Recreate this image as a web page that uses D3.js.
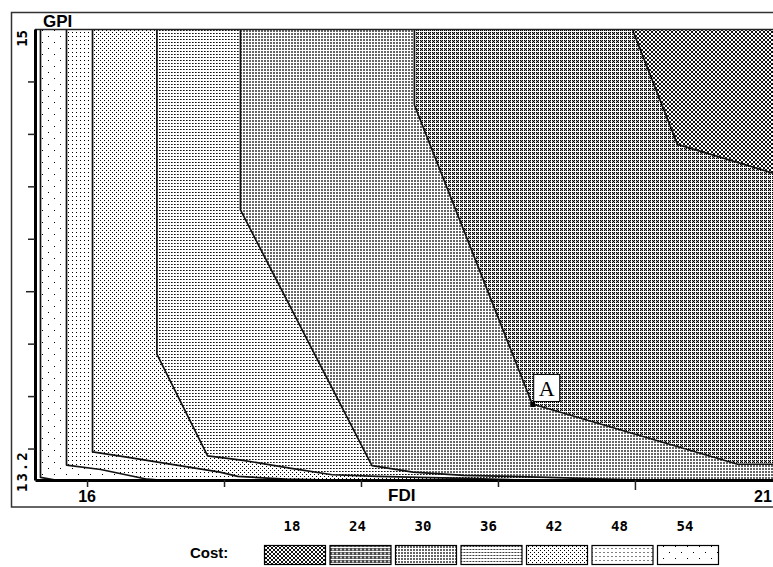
<!DOCTYPE html>
<html>
<head>
<meta charset="utf-8">
<script src="https://cdn.jsdelivr.net/npm/d3@7"></script>
<style>
body { margin: 0; background: #fff; }
svg { display: block; }
</style>
</head>
<body>
<svg id="chart" width="773" height="567"></svg>
<script>
// cost levels shown in the legend
var costLevels = [18, 24, 30, 36, 42, 48, 54];
// axis ranges and ticks
var fdiDomain = [15.62, 21.3];
var gpiDomain = [13.28, 15];
var fdiTicks = [16, 17, 18, 19, 20];
var gpiTicks = [13.4, 13.6, 13.8, 14.0, 14.2, 14.4, 14.6, 14.8];
var fdiLabels = ['16', '21'];
var fdiLabelValues = [16, 21];
var gpiLabels = ['13.2', '15'];
// contour lines (FDI, GPI)
var contour18 = [[19.98, 15], [20.31, 14.56], [21.01, 14.45], [21.3, 14.41]];
var contour24 = [[18.39, 15], [18.39, 14.71], [19.25, 13.57], [20.75, 13.34], [21.3, 13.34]];
var contour30 = [[17.12, 15], [17.12, 14.31], [18.08, 13.335], [18.38, 13.31], [18.75, 13.298], [19.37, 13.29], [20.0, 13.28]];
var contour36 = [[16.51, 15], [16.51, 13.76], [16.88, 13.372], [17.14, 13.355], [17.48, 13.325], [17.79, 13.30], [18.12, 13.294], [18.75, 13.286], [19.16, 13.28]];
var contour42 = [[16.04, 15], [16.04, 13.387], [16.29, 13.367], [16.97, 13.31], [17.10, 13.294], [17.45, 13.283], [17.77, 13.28]];
var contour48 = [[15.85, 15], [15.85, 13.337], [16.10, 13.32], [16.44, 13.283], [16.53, 13.28]];
var contour54 = [[15.66, 15], [15.66, 13.29], [15.77, 13.28]];
// the marked optimum
var pointA = [19.25, 13.57];
var pointALabel = 'A';

var contours = [contour18, contour24, contour30, contour36, contour42, contour48, contour54];

// fill patterns, one per cost level (pixel cells inside a tile: [x, y, colour])
var patternStyles = {
    18: {w: 4, h: 4, cells: [[0, 0, '#111'], [1, 1, '#111'], [2, 2, '#111'], [3, 3, '#111'], [3, 0, '#111'], [2, 1, '#111'], [1, 2, '#111'], [0, 3, '#111']]},
    24: {w: 4, h: 4, cells: [[0, 0, '#000'], [2, 0, '#000'], [1, 1, '#000'], [0, 2, '#000'], [2, 2, '#000'], [1, 0, '#999'], [0, 1, '#999'], [2, 1, '#999'], [1, 2, '#999']]},
    30: {w: 3, h: 3, cells: [[0, 0, '#666'], [1, 0, '#666'], [0, 1, '#666'], [1, 1, '#666']]},
    36: {w: 3, h: 3, cells: [[0, 0, '#111'], [1, 0, '#666']]},
    42: {w: 4, h: 4, cells: [[0, 0, '#000'], [2, 2, '#000']]},
    48: {w: 4, h: 4, cells: [[0, 0, '#000']]},
    54: {w: 12, h: 12, cells: [[0, 0, '#000'], [6, 6, '#000']]}
};

var svg = d3.select('#chart');
var defs = svg.append('defs');

costLevels.forEach(function (c) {
    var st = patternStyles[c];
    var p = defs.append('pattern')
        .attr('id', 'pat' + c)
        .attr('width', st.w)
        .attr('height', st.h)
        .attr('patternUnits', 'userSpaceOnUse');
    p.append('rect').attr('width', st.w).attr('height', st.h).attr('fill', '#fff');
    p.selectAll('rect.cell').data(st.cells).enter().append('rect')
        .attr('class', 'cell')
        .attr('x', function (d) { return d[0]; })
        .attr('y', function (d) { return d[1]; })
        .attr('width', 1)
        .attr('height', 1)
        .attr('fill', function (d) { return d[2]; });
});

var x = d3.scaleLinear().domain(fdiDomain).range([35, 813]);
var y = d3.scaleLinear().domain(gpiDomain).range([480, 29]);

defs.append('clipPath').attr('id', 'plotClip')
    .append('rect')
    .attr('x', x(fdiDomain[0]))
    .attr('y', y(gpiDomain[1]))
    .attr('width', x(fdiDomain[1]) - x(fdiDomain[0]))
    .attr('height', y(gpiDomain[0]) - y(gpiDomain[1]));

// outer frame
svg.append('rect')
    .attr('x', 11.5).attr('y', 12.5)
    .attr('width', 820).attr('height', 494.5)
    .attr('fill', 'none').attr('stroke', '#333').attr('stroke-width', 1.5);

var plot = svg.append('g').attr('clip-path', 'url(#plotClip)');

// regions: draw the highest cost first, lower costs stack on top
var line = d3.line().x(function (d) { return x(d[0]); }).y(function (d) { return y(d[1]); });
for (var i = costLevels.length - 1; i >= 0; i--) {
    var pts = contours[i];
    var last = pts[pts.length - 1];
    var poly = pts.concat([[fdiDomain[1] + 0.2, last[1]], [fdiDomain[1] + 0.2, gpiDomain[1]]]);
    plot.append('path')
        .attr('d', line(poly) + 'Z')
        .attr('fill', 'url(#pat' + costLevels[i] + ')')
        .attr('stroke', 'none');
}
// contour lines
contours.forEach(function (pts) {
    plot.append('path')
        .attr('d', line(pts))
        .attr('fill', 'none')
        .attr('stroke', '#111')
        .attr('stroke-width', 1.7)
        .attr('stroke-linejoin', 'round');
});

// top border of the plot
svg.append('line')
    .attr('x1', x(fdiDomain[0])).attr('x2', 820)
    .attr('y1', y(gpiDomain[1]) + 0.5).attr('y2', y(gpiDomain[1]) + 0.5)
    .attr('stroke', '#222').attr('stroke-width', 1.5);

// axes
var yAxis = svg.append('g')
    .attr('transform', 'translate(' + x(fdiDomain[0]) + ',0)')
    .call(d3.axisLeft(y).tickValues(gpiTicks).tickSize(7).tickSizeOuter(0).tickFormat(''));
var xAxis = svg.append('g')
    .attr('transform', 'translate(0,' + y(gpiDomain[0]) + ')')
    .call(d3.axisBottom(x).tickValues(fdiTicks).tickSize(7).tickSizeOuter(0).tickFormat(''));
[yAxis, xAxis].forEach(function (ax) {
    ax.select('.domain').attr('stroke', '#000').attr('stroke-width', 3);
    ax.selectAll('.tick line').attr('stroke', '#222').attr('stroke-width', 1.5);
});
yAxis.selectAll('.tick line').filter(function (d) { return d === 14; }).attr('x2', -9);
xAxis.selectAll('.tick line').filter(function (d) { return d === 20; }).attr('y2', 10);

// axis titles and end labels
svg.append('text')
    .attr('x', 43).attr('y', 27)
    .attr('font-family', 'Liberation Sans, Arial, sans-serif')
    .attr('font-weight', 'bold').attr('font-size', 17)
    .text('GPI');
svg.append('text')
    .attr('x', 388).attr('y', 501)
    .attr('font-family', 'Liberation Sans, Arial, sans-serif')
    .attr('font-weight', 'bold').attr('font-size', 17)
    .text('FDI');

svg.selectAll('text.xlab').data(fdiLabelValues).enter().append('text')
    .attr('class', 'xlab')
    .attr('x', function (d) { return x(d); })
    .attr('y', 502)
    .attr('text-anchor', function (d, i) { return i === 0 ? 'middle' : 'end'; })
    .attr('font-family', 'Liberation Sans, Arial, sans-serif')
    .attr('font-weight', 'bold').attr('font-size', 16)
    .text(function (d, i) { return fdiLabels[i]; });

svg.append('text')
    .attr('transform', 'translate(27,' + (y(gpiDomain[1]) + 1) + ') rotate(-90)')
    .attr('text-anchor', 'end')
    .attr('font-family', 'DejaVu Sans Mono, monospace')
    .attr('font-weight', 'bold').attr('font-size', 14)
    .text(gpiLabels[1]);
svg.append('text')
    .attr('transform', 'translate(27,' + 492 + ') rotate(-90)')
    .attr('text-anchor', 'start')
    .attr('letter-spacing', 2)
    .attr('font-family', 'DejaVu Sans Mono, monospace')
    .attr('font-weight', 'bold').attr('font-size', 14)
    .text(gpiLabels[0]);

// point A
var ax0 = x(pointA[0]), ay0 = y(pointA[1]);
svg.append('rect')
    .attr('x', ax0 - 2).attr('y', ay0 - 2)
    .attr('width', 5).attr('height', 5)
    .attr('fill', '#000');
svg.append('rect')
    .attr('x', ax0 + 1.5).attr('y', ay0 - 29.5)
    .attr('width', 26).attr('height', 27)
    .attr('fill', '#fff').attr('stroke', '#000').attr('stroke-width', 1);
svg.append('text')
    .attr('x', ax0 + 14.5).attr('y', ay0 - 8)
    .attr('text-anchor', 'middle')
    .attr('font-family', 'Liberation Serif, serif')
    .attr('font-size', 22)
    .text(pointALabel);

// legend
var legend = svg.append('g');
legend.append('text')
    .attr('x', 190).attr('y', 558)
    .attr('font-family', 'Liberation Sans, Arial, sans-serif')
    .attr('font-weight', 'bold').attr('font-size', 15)
    .text('Cost:');
var items = legend.selectAll('g.item').data(costLevels).enter().append('g')
    .attr('class', 'item')
    .attr('transform', function (d, i) { return 'translate(' + (264 + i * 65.5) + ',0)'; });
items.append('rect')
    .attr('x', 0.5).attr('y', 545.5)
    .attr('width', 61).attr('height', 19)
    .attr('fill', function (d) { return 'url(#pat' + d + ')'; })
    .attr('stroke', '#000').attr('stroke-width', 1.2);
items.append('text')
    .attr('x', 28).attr('y', 531)
    .attr('text-anchor', 'middle')
    .attr('font-family', 'DejaVu Sans Mono, monospace')
    .attr('font-weight', 'bold').attr('font-size', 14)
    .text(function (d) { return d; });
</script>
</body>
</html>
